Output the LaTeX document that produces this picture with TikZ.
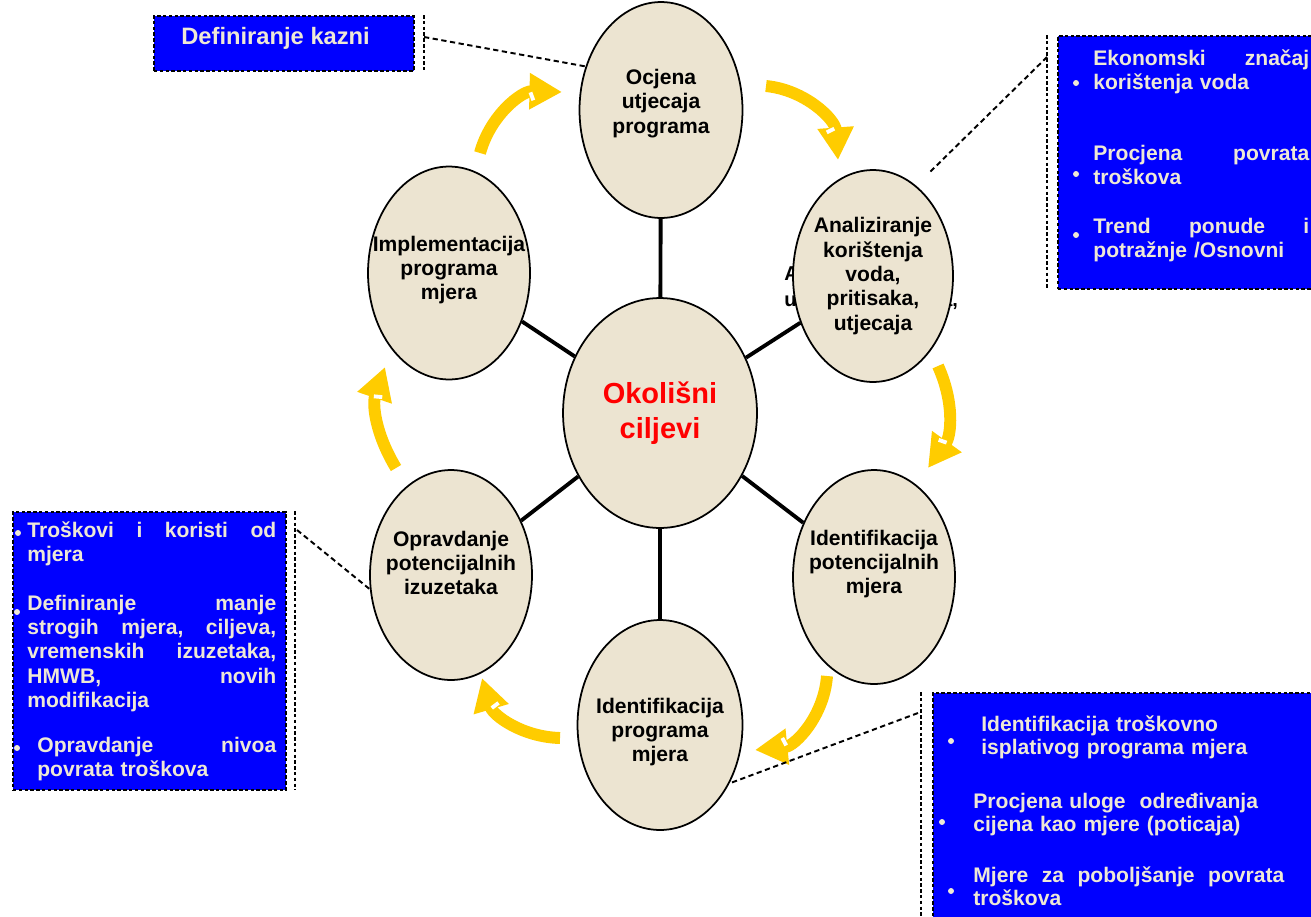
\documentclass[tikz,border=0pt]{standalone}
\usepackage{fontspec}
\setmainfont{Liberation Sans}
\usetikzlibrary{shapes.geometric,arrows.meta,decorations.markings}
\definecolor{boxblue}{RGB}{0,0,255}
\definecolor{stagefill}{RGB}{236,228,209}
\definecolor{boxtext}{RGB}{238,232,214}
\definecolor{cyclearrow}{RGB}{255,204,0}

\begin{document}
\begin{tikzpicture}[x=0.02cm, y=-0.02cm,
  stage/.style={ellipse, draw=black, line width=1pt, fill=stagefill, inner sep=0pt},
  stagetext/.style={font=\bfseries\fontsize{12}{13.9}\selectfont, align=center},
  spoke/.style={line width=2.2pt},
  infobox/.style={draw=black, fill=boxblue, line width=1.1pt, dash pattern=on 2pt off 1.3pt, anchor=north west, inner sep=0pt},
  bracket/.style={line width=1.1pt, dash pattern=on 2pt off 1.3pt},
  leader/.style={line width=1.1pt, dash pattern=on 3pt off 2pt},
  itemtext/.style={font=\bfseries\fontsize{12}{13.9}\selectfont, text=boxtext, align=left, anchor=base west, inner sep=0pt},
  cyclearr/.style={cyclearrow, line width=6.8pt, -{Triangle[length=18.5pt,width=19.5pt]},
    postaction={decorate}, decoration={markings, mark=at position -18.5pt with {\fill[white] (0pt,-2.4pt) rectangle (2.2pt,2.4pt);}}}]
\useasboundingbox (0,0) rectangle (1311,916);
\clip (0,0) rectangle (1311,916);

\node[stagetext, align=left, anchor=base west, inner sep=0pt, font=\bfseries\fontsize{11.4}{14.6}\selectfont] (analiza-g) at (784,306) {Analiziranje\\utjecaja, pritisaka,};

\node[stage, minimum width=3.88cm, minimum height=4.6cm,
  label={[stagetext, text=red, font=\bfseries\fontsize{16.5}{19.8}\selectfont]center:Okolišni\\ciljevi}] (cilj) at (660,413) {};
\node[stage, minimum width=3.26cm, minimum height=4.32cm,
  label={[stagetext, yshift=0.13cm]center:Ocjena\\utjecaja\\programa}] (ocjena) at (661,110) {};
\node[stage, minimum width=3.2cm, minimum height=4.24cm,
  label={[stagetext]center:Analiziranje\\korištenja\\voda,\\pritisaka,\\utjecaja}] (analiza) at (873,276) {};
\node[stage, minimum width=3.24cm, minimum height=4.28cm,
  label={[stagetext, yshift=0.26cm]center:Identifikacija\\potencijalnih\\mjera}] (identmj) at (874,577) {};
\node[stage, minimum width=3.3cm, minimum height=4.2cm,
  label={[stagetext, yshift=-0.14cm]center:Identifikacija\\programa\\mjera}] (identprog) at (660,725) {};
\node[stage, minimum width=3.24cm, minimum height=4.2cm,
  label={[stagetext, yshift=0.24cm]center:Opravdanje\\potencijalnih\\izuzetaka}] (opravd) at (451,575) {};
\node[stage, minimum width=3.24cm, minimum height=4.26cm,
  label={[stagetext, yshift=0.06cm]center:Implementacija\\programa\\mjera}] (impl) at (449,273) {};

\foreach \n in {ocjena, analiza, identmj, identprog, opravd, impl}
  \draw[spoke] (cilj) -- (\n);

\foreach \xa/\ya/\xb/\yb/\bend in {480/153/562/92/38, 766/86/838/160/40, 938/366/928/468/30,
    827/676/755/750/40, 560/738/482/678/36, 396/468/385/367/25}
  \draw[cyclearr] (\xa,\ya) to[bend left=\bend] (\xb,\yb);

\node[infobox, minimum width=5.2cm, minimum height=1.1cm] (kazne) at (153,15) {};
\node[itemtext, font=\bfseries\fontsize{13.5}{16}\selectfont] (kazne-t) at (181,44) {Definiranje kazni};
\coordinate (brk1) at (424,37);
\draw[bracket] (424,15) -- (424,70);
\draw[leader] (brk1) -- (ocjena.150);

\node[infobox, minimum width=5.46cm, minimum height=5.06cm] (ekon) at (1057,35) {};
\node[itemtext, text width=4.32cm] (ekon-a) at (1093,65) {Ekonomski \hfill značaj\\ korištenja voda};
\node[itemtext, text width=4.32cm] (ekon-b) at (1093,160) {Procjena \hfill povrata\\ troškova};
\node[itemtext, text width=4.32cm] (ekon-c) at (1093,233) {Trend \hfill ponude \hfill i\\ potražnje /Osnovni};
\coordinate (brk2) at (1047,57);
\coordinate (kraj2) at (930,172);
\draw[bracket] (1047,35) -- (1047,288);
\draw[leader] (brk2) -- (kraj2);

\node[infobox, minimum width=5.46cm, minimum height=5.56cm] (kor) at (12,511) {};
\node[itemtext, text width=4.98cm] (kor-a) at (27,537) {Troškovi \hfill i \hfill koristi \hfill od\\ mjera};
\node[itemtext, text width=4.98cm] (kor-b) at (27,610) {Definiranje \hfill manje\\ strogih \hfill mjera, \hfill ciljeva,\\ vremenskih \hfill izuzetaka,\\ HMWB, \hfill novih\\ modifikacija};
\node[itemtext, text width=4.78cm] (kor-c) at (37,752) {Opravdanje \hfill nivoa\\ povrata troškova};
\coordinate (brk3) at (297,530);
\draw[bracket] (295,511) -- (295,790);
\draw[leader] (brk3) -- (opravd.190);

\node[infobox, minimum width=8cm, minimum height=5cm] (mjere) at (932,692) {};
\node[itemtext, text width=7cm, font=\bfseries\fontsize{12}{13.4}\selectfont] (mjere-a) at (981,731) {Identifikacija troškovno\\ isplativog programa mjera};
\node[itemtext, text width=7cm, font=\bfseries\fontsize{12}{13.4}\selectfont] (mjere-b) at (973,808) {Procjena uloge~ određivanja\\ cijena kao mjere (poticaja)};
\node[itemtext, text width=6.22cm, font=\bfseries\fontsize{12}{13.4}\selectfont] (mjere-c) at (973,882) {Mjere \hfill za \hfill poboljšanje \hfill povrata\\ troškova};
\coordinate (brk4) at (918,713);
\draw[bracket] (921,692) -- (921,916);
\draw[leader] (brk4) -- (identprog.-40);

\foreach \x/\y in {1076/83, 1076/174, 1076/235, 18/533, 17/612, 17/748, 951/741, 942/822, 951/891}
  \fill[boxtext] (\x,\y) circle (1.7pt);
\end{tikzpicture}
\end{document}
